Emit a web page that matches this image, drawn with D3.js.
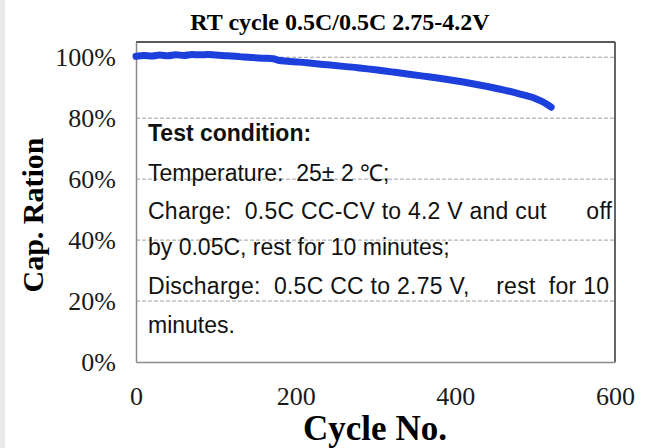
<!DOCTYPE html>
<html>
<head>
<meta charset="utf-8">
<script src="https://cdn.jsdelivr.net/npm/d3@7/dist/d3.min.js"></script>
<style>
  body { margin: 0; background: #fff; }
  .tick text { font-family: "Liberation Serif", "Times New Roman", serif; fill: #1a1a1a; }
  .note { font-family: "Liberation Sans", Arial, sans-serif; fill: #111; }
</style>
</head>
<body>
<div id="chart"></div>
<script>
// data
var cycles   = [0, 10, 20, 30, 40, 50, 60, 70, 80, 90, 100, 115, 130, 145, 160, 172, 178, 190, 205, 220, 240, 260, 280, 300, 320, 340, 360, 380, 400, 420, 440, 460, 480, 500, 510, 520];
var capacity = [100.3, 100.6, 100.4, 100.7, 100.5, 100.8, 100.6, 100.9, 100.8, 100.9, 100.7, 100.5, 100.2, 99.9, 99.7, 99.5, 99.0, 98.7, 98.4, 98.0, 97.5, 97.0, 96.5, 95.9, 95.2, 94.5, 93.8, 93.1, 92.3, 91.4, 90.4, 89.3, 88.0, 86.5, 85.3, 83.6];
var yTicks = [0, 20, 40, 60, 80, 100];
var xTicks = [0, 200, 400, 600];
var noteLines = [
  "Temperature:  25\u00b1 2 \u2103;",
  "Charge:  0.5C CC-CV to 4.2 V and cut      off",
  "by 0.05C, rest for 10 minutes;",
  "Discharge:  0.5C CC to 2.75 V,    rest  for 10",
  "minutes."
];

var margin = {top: 42, right: 39, bottom: 86, left: 136},
    width = 654 - margin.left - margin.right,
    height = 448 - margin.top - margin.bottom;

var x = d3.scaleLinear().domain([0, 600]).range([0, width]);
var y = d3.scaleLinear().domain([0, 105]).range([height, 0]);

var root = d3.select("#chart").append("svg")
    .attr("width", 654)
    .attr("height", 448);

// light strip at the left edge of the screenshot
root.append("rect").attr("x", 0).attr("y", 0).attr("width", 5).attr("height", 448).attr("fill", "#e9e9e9");

var svg = root.append("g")
    .attr("transform", "translate(" + margin.left + "," + margin.top + ")");

// dashed grid
svg.selectAll(".grid")
    .data(yTicks.filter(function(d) { return d > 0; }))
  .enter().append("line")
    .attr("class", "grid")
    .attr("x1", 0).attr("x2", width)
    .attr("y1", function(d) { return y(d); })
    .attr("y2", function(d) { return y(d); })
    .attr("stroke", "#a0a0a0")
    .attr("stroke-width", 1)
    .attr("stroke-dasharray", "4,2");

// plot frame: grey left/bottom, dark top/right
svg.append("line").attr("x1", width).attr("x2", width).attr("y1", 0).attr("y2", height)
    .attr("stroke", "#333").attr("stroke-width", 1.5);
svg.append("line").attr("x1", 0).attr("x2", width).attr("y1", 0).attr("y2", 0)
    .attr("stroke", "#222").attr("stroke-width", 1.5);

var yAxis = d3.axisLeft(y)
    .tickValues(yTicks)
    .tickSize(0)
    .tickPadding(20)
    .tickFormat(function(d) { return d + "%"; });

var xAxis = d3.axisBottom(x)
    .tickValues(xTicks)
    .tickSize(0)
    .tickPadding(25);

svg.append("g")
    .attr("class", "y axis")
    .call(yAxis)
    .call(function(g) { g.select(".domain").attr("stroke", "#8a8a8a").attr("stroke-width", 1.5); })
    .selectAll("text")
    .style("font-size", "26px");

svg.append("g")
    .attr("class", "x axis")
    .attr("transform", "translate(0," + height + ")")
    .call(xAxis)
    .call(function(g) { g.select(".domain").attr("stroke", "#8a8a8a").attr("stroke-width", 1.5); })
    .selectAll("text")
    .style("font-size", "26px");

// capacity curve
var line = d3.line()
    .x(function(d, i) { return x(cycles[i]); })
    .y(function(d) { return y(d); })
    .curve(d3.curveMonotoneX);

svg.append("path")
    .datum(capacity)
    .attr("fill", "none")
    .attr("stroke", "#1d3fdc")
    .attr("stroke-width", 7)
    .attr("stroke-linecap", "round")
    .attr("d", line);

// test condition text box
svg.append("text")
    .attr("class", "note")
    .attr("x", 12).attr("y", 99)
    .style("font-size", "23px")
    .style("font-weight", "bold")
    .text("Test condition:");

var noteY = [139, 177, 213, 252, 291];
var noteLen = [null, 464, null, 461, null];
noteLines.forEach(function(t, i) {
  var tx = svg.append("text")
      .attr("class", "note")
      .attr("x", 12).attr("y", noteY[i])
      .style("font-size", "23px")
      .style("white-space", "pre")
      .attr("xml:space", "preserve")
      .text(t);
  if (noteLen[i]) tx.attr("textLength", noteLen[i]).attr("lengthAdjust", "spacing");
});

// titles
root.append("text")
    .attr("x", 340).attr("y", 30)
    .attr("text-anchor", "middle")
    .style("font-family", "Liberation Serif, serif")
    .style("font-weight", "bold")
    .style("font-size", "24px")
    .text("RT cycle  0.5C/0.5C 2.75-4.2V");

root.append("text")
    .attr("x", 375).attr("y", 440)
    .attr("text-anchor", "middle")
    .style("font-family", "Liberation Serif, serif")
    .style("font-weight", "bold")
    .style("font-size", "35px")
    .text("Cycle No.");

root.append("text")
    .attr("transform", "translate(43,215) rotate(-90)")
    .attr("text-anchor", "middle")
    .style("font-family", "Liberation Serif, serif")
    .style("font-weight", "bold")
    .style("font-size", "30px")
    .text("Cap. Ration");
</script>
</body>
</html>
